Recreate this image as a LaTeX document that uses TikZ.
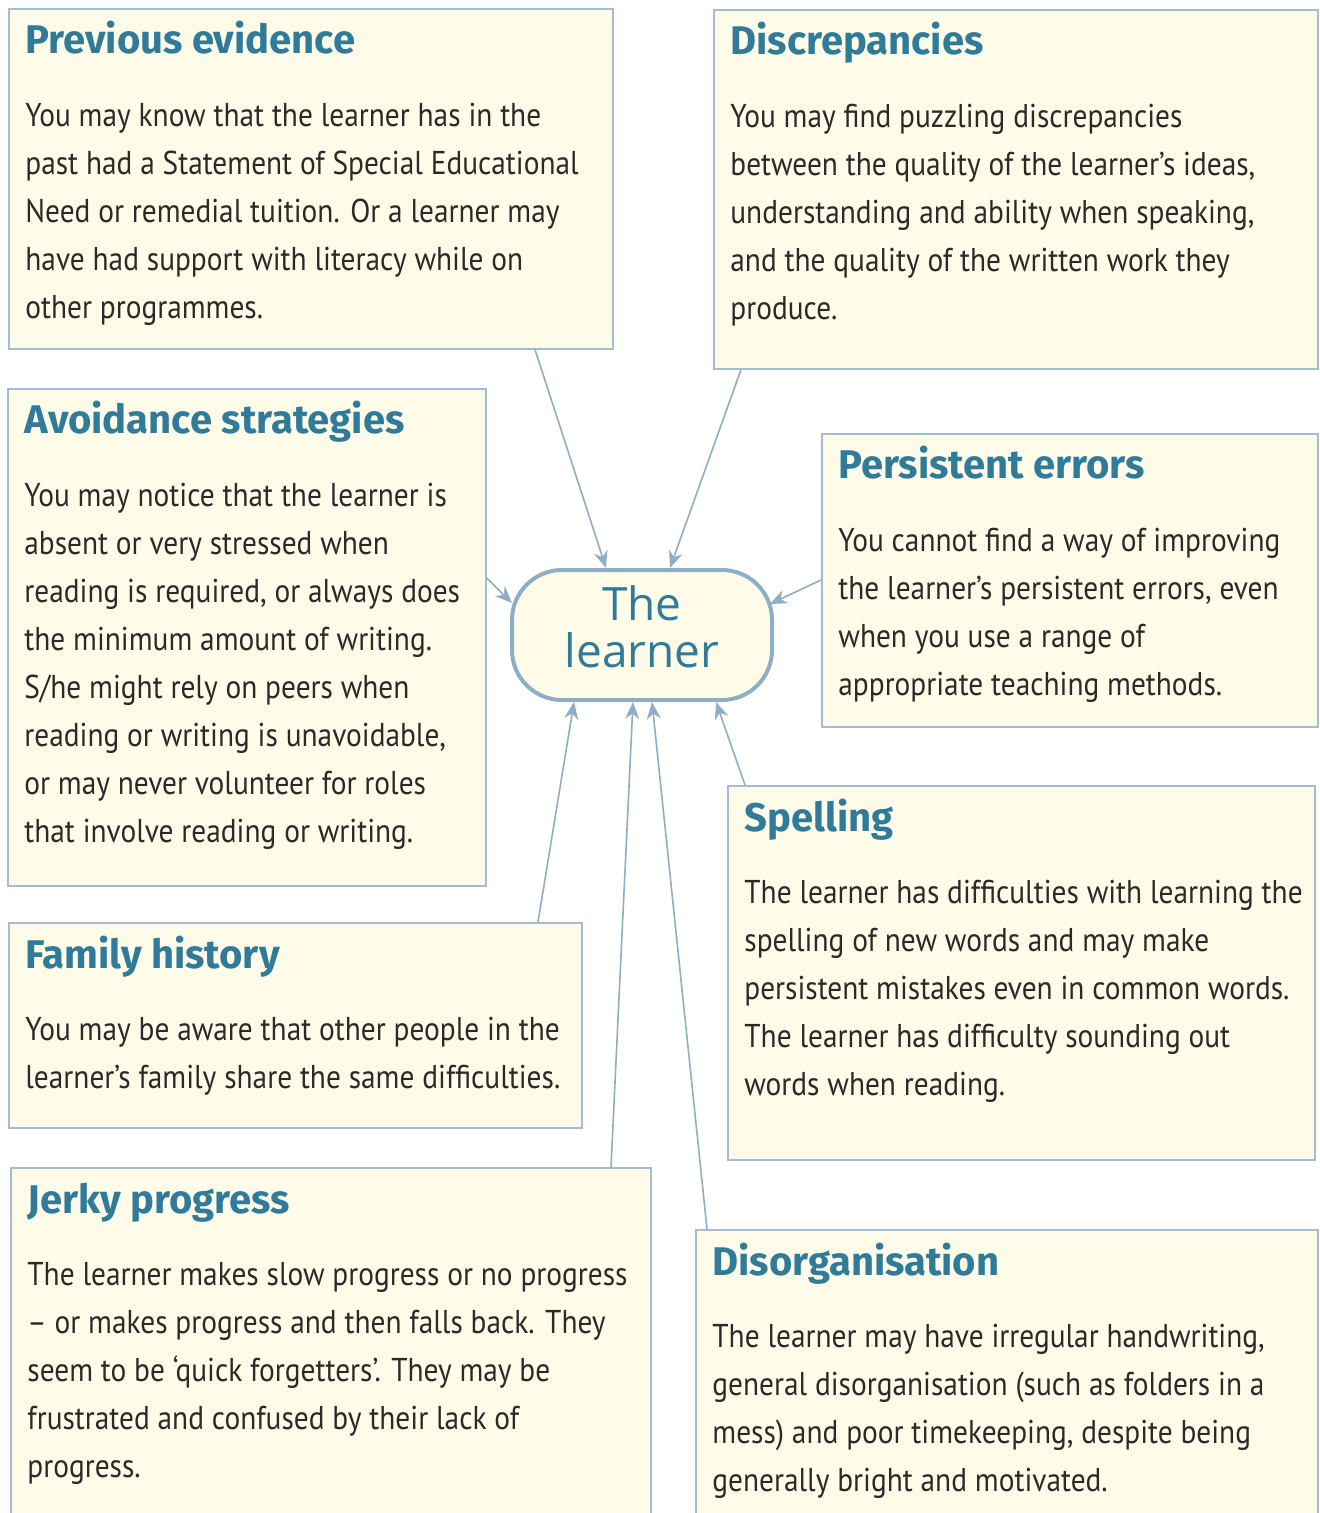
\documentclass[tikz,border=0pt]{standalone}
\usepackage{fontspec}
\usetikzlibrary{arrows.meta}
\newfontfamily\bodyfont{PT Sans}[FakeStretch=0.89]
\newfontfamily\headfont{Fira Sans}
\newfontfamily\centrefont{Open Sans}
\definecolor{cardfill}{HTML}{FFFBE9}
\definecolor{cardline}{HTML}{A3BCD0}
\definecolor{headblue}{HTML}{2F7B99}
\definecolor{bodygrey}{HTML}{2B2A29}
\definecolor{arrowline}{HTML}{8FADC4}
\begin{document}
\begin{tikzpicture}[x=0.5pt, y=-0.5pt,
  card/.style={draw=cardline, fill=cardfill, line width=0.8pt, anchor=north west, inner sep=0pt},
  cardhead/.style={anchor=base west, inner sep=0pt, text=headblue, font=\headfont\bfseries\fontsize{20}{23}\selectfont},
  cardtext/.style={anchor=north west, inner sep=0pt, align=left, text=bodygrey, font=\bodyfont\fontsize{16.5}{24}\selectfont},
  feed/.style={draw=arrowline, line width=0.8pt, -{Stealth[length=8.5pt, width=7pt]}}]
  \clip (0,0) rectangle (1320,1513);

  \node[card, minimum width=302pt, minimum height=170pt] (prev) at (8,8) {};
  \node[cardhead] (prevhead) at ([shift={(17,46)}]prev.north west) {Previous evidence};
  \node[cardtext] (prevtext) at ([shift={(17,84.4)}]prev.north west)
    {\strut You may know that the learner has in the\\ past had a Statement of Special Educational\\ Need or remedial tuition. Or a learner may\\ have had support with literacy while on\\ other programmes.};

  \node[card, minimum width=302pt, minimum height=179.5pt] (disc) at (713,9) {};
  \node[cardhead] (dischead) at ([shift={(17,46)}]disc.north west) {Discrepancies};
  \node[cardtext] (disctext) at ([shift={(17,84.4)}]disc.north west)
    {\strut You may find puzzling discrepancies\\ between the quality of the learner’s ideas,\\ understanding and ability when speaking,\\ and the quality of the written work they\\ produce.};

  \node[card, minimum width=239pt, minimum height=248.5pt] (avoid) at (7,388) {};
  \node[cardhead] (avoidhead) at ([shift={(17,46)}]avoid.north west) {Avoidance strategies};
  \node[cardtext] (avoidtext) at ([shift={(17,84.4)}]avoid.north west)
    {\strut You may notice that the learner is\\ absent or very stressed when\\ reading is required, or always does\\ the minimum amount of writing.\\ S/he might rely on peers when\\ reading or writing is unavoidable,\\ or may never volunteer for roles\\ that involve reading or writing.};

  \node[card, minimum width=248pt, minimum height=146.5pt] (persist) at (821,433) {};
  \node[cardhead] (persisthead) at ([shift={(17,46)}]persist.north west) {Persistent errors};
  \node[cardtext] (persisttext) at ([shift={(17,84.4)}]persist.north west)
    {\strut You cannot find a way of improving\\ the learner’s persistent errors, even\\ when you use a range of\\ appropriate teaching methods.};

  \node[card, minimum width=286.5pt, minimum height=102.5pt] (family) at (8,922) {};
  \node[cardhead] (familyhead) at ([shift={(17,46)}]family.north west) {Family history};
  \node[cardtext] (familytext) at ([shift={(17,84.4)}]family.north west)
    {\strut You may be aware that other people in the\\ learner’s family share the same difficulties.};

  \node[card, minimum width=293.5pt, minimum height=187pt] (spell) at (727,785) {};
  \node[cardhead] (spellhead) at ([shift={(17,46)}]spell.north west) {Spelling};
  \node[cardtext] (spelltext) at ([shift={(17,84.4)}]spell.north west)
    {\strut The learner has difficulties with learning the\\ spelling of new words and may make\\ persistent mistakes even in common words.\\ The learner has difficulty sounding out\\ words when reading.};

  \node[card, minimum width=320pt, minimum height=180pt] (jerky) at (10,1167) {};
  \node[cardhead] (jerkyhead) at ([shift={(17,46)}]jerky.north west) {Jerky progress};
  \node[cardtext] (jerkytext) at ([shift={(17,84.4)}]jerky.north west)
    {\strut The learner makes slow progress or no progress\\ – or makes progress and then falls back. They\\ seem to be ‘quick forgetters’. They may be\\ frustrated and confused by their lack of\\ progress.};

  \node[card, minimum width=311pt, minimum height=150pt] (disorg) at (695,1229) {};
  \node[cardhead] (disorghead) at ([shift={(17,46)}]disorg.north west) {Disorganisation};
  \node[cardtext] (disorgtext) at ([shift={(17,84.4)}]disorg.north west)
    {\strut The learner may have irregular handwriting,\\ general disorganisation (such as folders in a\\ mess) and poor timekeeping, despite being\\ generally bright and motivated.};

  \node[draw=arrowline, fill=cardfill, line width=2pt, rounded corners=25pt, minimum width=130pt, minimum height=65pt,
    align=center, text depth=8pt, text=headblue, font=\centrefont\fontsize{23}{23.5}\selectfont] (learner) at (642,635) {The\\ learner};

  \draw[feed] (prev.south -| 535,0) -- (learner.north -| 606,0);
  \draw[feed] (disc.south -| 741,0) -- (learner.north -| 670,0);
  \draw[feed] (avoid.east |- 0,578) -- ([shift={(2,-32)}]learner.west);
  \draw[feed] (persist.west |- 0,580) -- ([shift={(-4,-31)}]learner.east);
  \draw[feed] (spell.north -| 745,0) -- (learner.south -| 716,0);
  \draw[feed] (family.north -| 538,0) -- (learner.south -| 574,0);
  \draw[feed] (jerky.north -| 611,0) -- (learner.south -| 633,0);
  \draw[feed] (disorg.north -| 707,0) -- (learner.south -| 652,0);
\end{tikzpicture}
\end{document}
